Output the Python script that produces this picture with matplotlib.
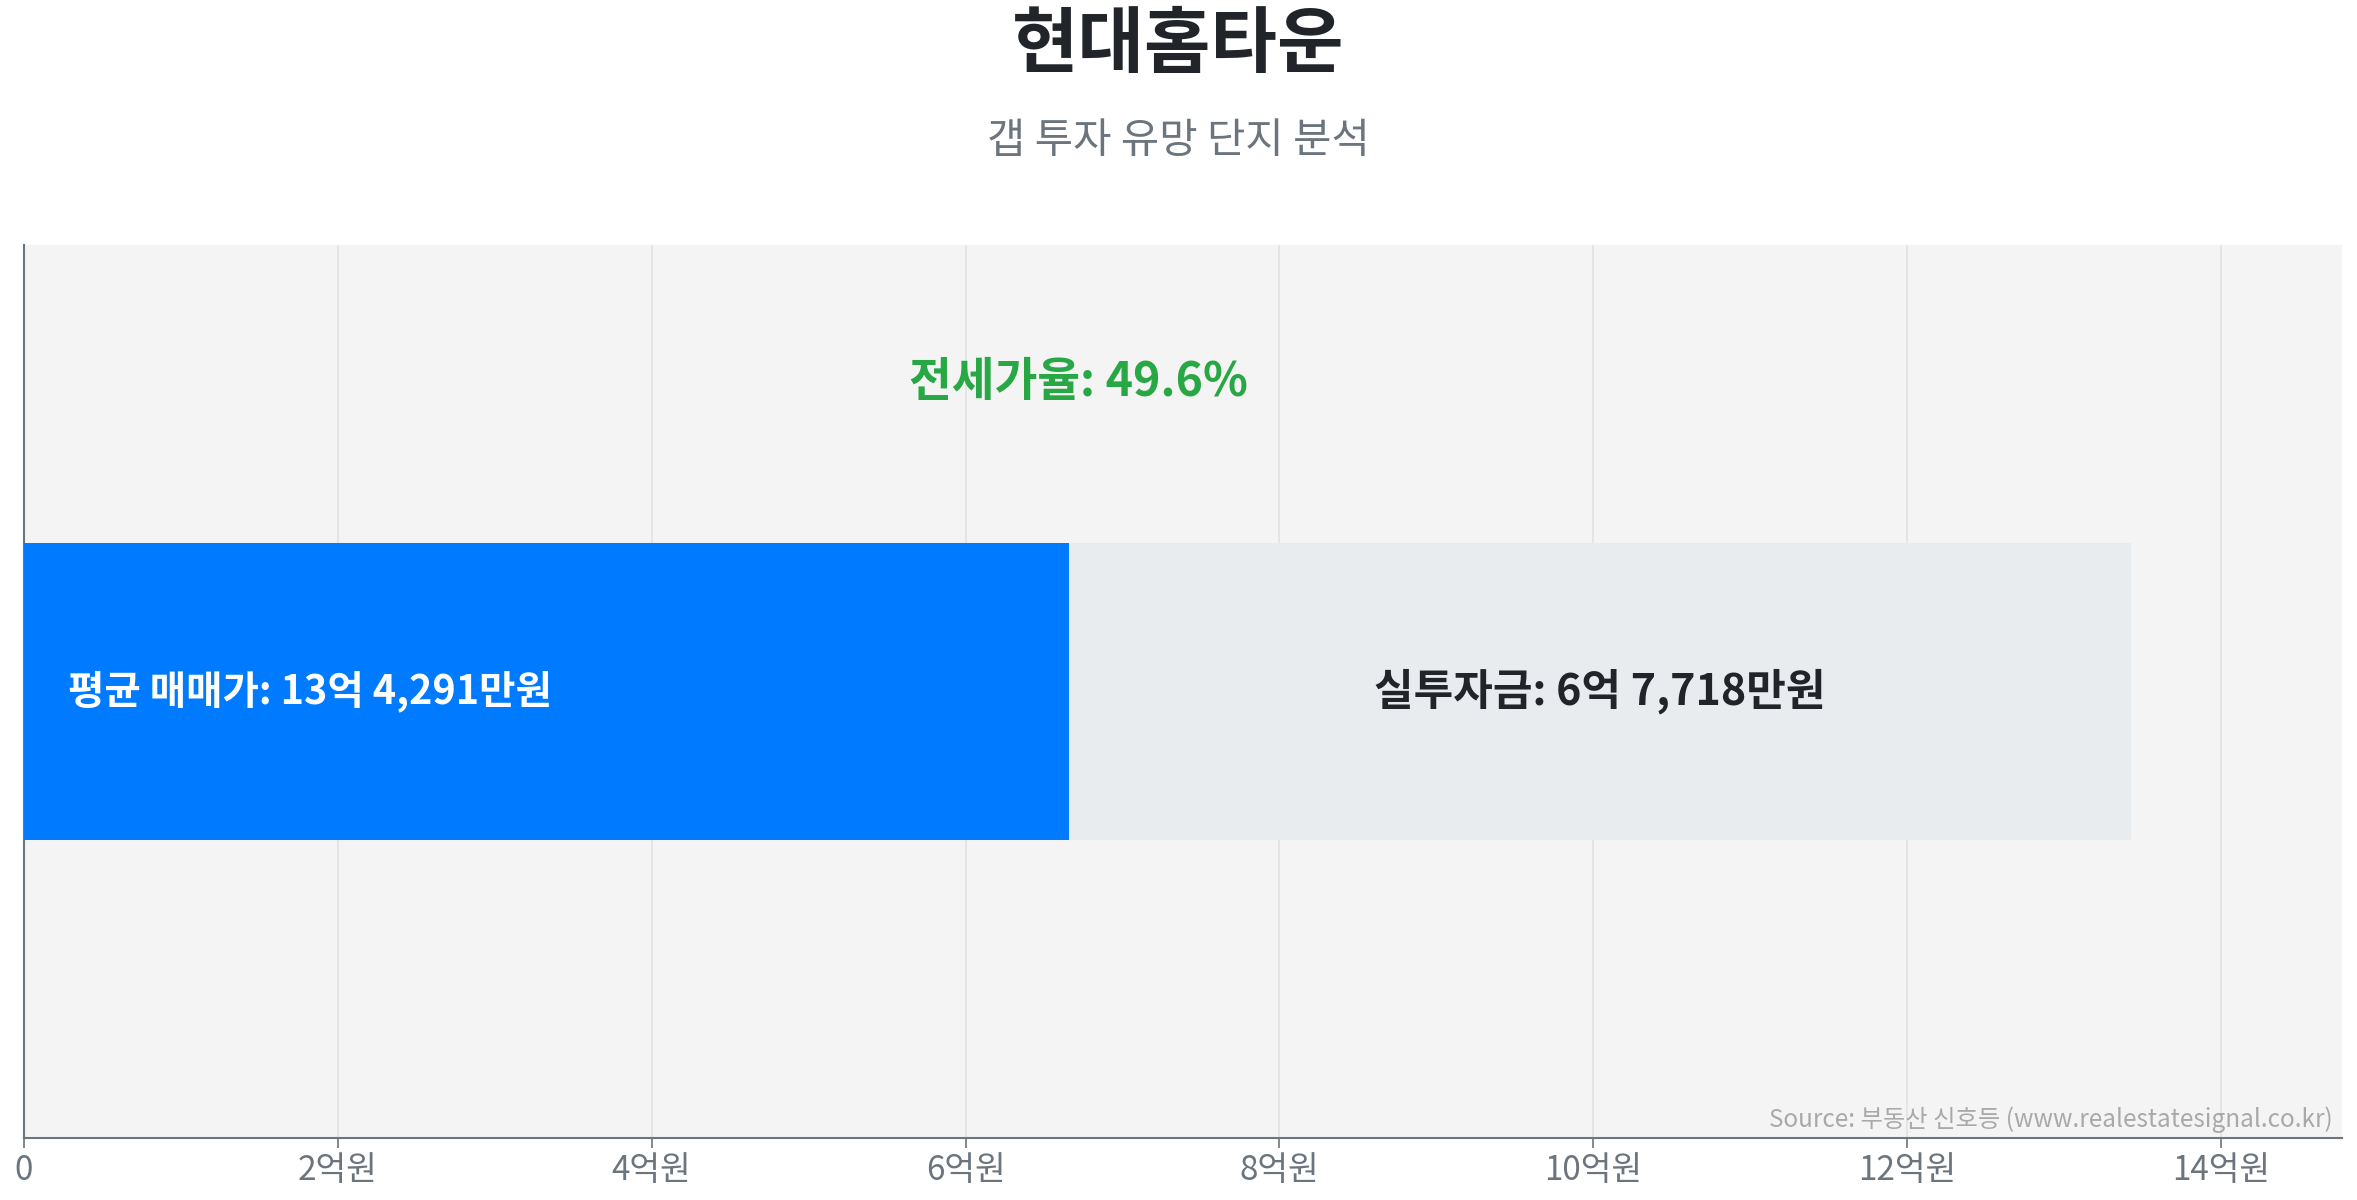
import matplotlib
matplotlib.use("Agg")
import matplotlib.pyplot as plt
from matplotlib.ticker import FuncFormatter

plt.rcParams['font.family'] = ['Noto Sans CJK KR', 'DejaVu Sans']

# values in 만원
complex_name = "현대홈타운"
subtitle = "갭 투자 유망 단지 분석"
avg_price = 134291
jeonse_price = 66573
investment = 67718
jeonse_ratio = 49.6
tick_values = [0, 2, 4, 6, 8, 10, 12, 14]   # 억원
source = "Source: 부동산 신호등 (www.realestatesignal.co.kr)"


def fmt_won(v):
    eok, man = divmod(v, 10000)
    return f"{eok}억 {man:,}만원"


fig = plt.figure(figsize=(23.57, 12), dpi=100)
ax = fig.add_axes([0.0102, 0.0517, 0.9834, 0.7441])
ax.set_facecolor('#f4f4f4')

price_eok = avg_price / 10000
jeonse_eok = jeonse_price / 10000
invest_eok = investment / 10000

ax.barh(0, jeonse_eok, height=1, color='#007bff', zorder=3)
ax.barh(0, invest_eok, left=jeonse_eok, height=1, color='#e9ecef', zorder=3)

ax.text(0.28, 0, "평균 매매가: " + fmt_won(avg_price), color='white',
        fontsize=28.5, fontweight='bold', ha='left', va='center', zorder=4)
ax.text(jeonse_eok + invest_eok / 2, 0, "실투자금: " + fmt_won(investment),
        color='#212529', fontsize=31, fontweight='bold', ha='center', va='center', zorder=4)
ax.text(jeonse_eok + 0.06, 1.04, f"전세가율: {jeonse_ratio}%", color='#28a745',
        fontsize=33.5, fontweight='bold', ha='center', va='center', zorder=4)

ax.set_xlim(0, price_eok * 1.1)
ax.set_ylim(-1.5, 1.5)
ax.set_yticks([])
ax.set_xticks(tick_values)
ax.xaxis.set_major_formatter(FuncFormatter(lambda v, p: "0" if v == 0 else f"{v:.0f}억원"))
ax.tick_params(axis='x', colors='#6c757d', labelsize=24, length=7, width=1.2, pad=4)
ax.grid(axis='x', color='#e3e3e3', linewidth=1.2, zorder=0)

for s in ['top', 'right']:
    ax.spines[s].set_visible(False)
for s in ['left', 'bottom']:
    ax.spines[s].set_color('#6c757d')
    ax.spines[s].set_linewidth(1.5)

ax.text(0.996, 0.006, source, transform=ax.transAxes, ha='right', va='bottom',
        fontsize=17.5, color='#a9a9a9', zorder=5)

fig.text(0.5, 0.962, complex_name, ha='center', va='center', fontsize=52,
         fontweight='bold', color='#212529')
fig.text(0.5, 0.882, subtitle, ha='center', va='center', fontsize=30, color='#6c757d')

fig.savefig('out.png', dpi=100)
